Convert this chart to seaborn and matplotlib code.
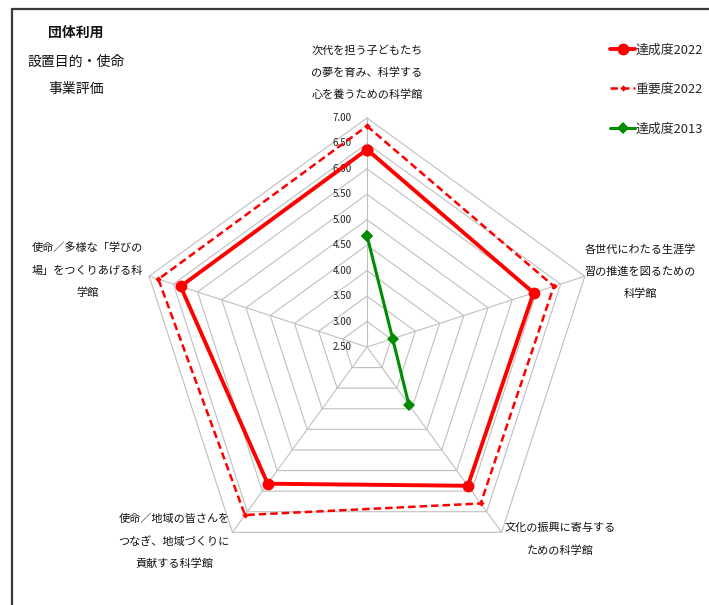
# Radar chart: 団体利用 設置目的・使命 事業評価

import matplotlib
matplotlib.use("Agg")
import matplotlib.pyplot as plt
from matplotlib.lines import Line2D
from matplotlib.patches import Rectangle
import seaborn as sns
import pandas as pd
import numpy as np

# ---- data ----
categories = [
    "次代を担う子どもたち\nの夢を育み、科学する\n心を養うための科学館",
    "各世代にわたる生涯学\n習の推進を図るための\n科学館",
    "文化の振興に寄与する\nための科学館",
    "使命／地域の皆さんを\nつなぎ、地域づくりに\n貢献する科学館",
    "使命／多様な「学びの\n場」をつくりあげる科\n学館",
]
achieve_2022 = [6.38, 5.94, 5.87, 5.82, 6.35]
importance_2022 = [6.84, 6.36, 6.30, 6.58, 6.81]
achieve_2013 = [4.69, 3.03, 3.90, np.nan, np.nan]
series_names = ["達成度2022", "重要度2022", "達成度2013"]
r_ticks = [2.5, 3.0, 3.5, 4.0, 4.5, 5.0, 5.5, 6.0, 6.5, 7.0]
title_lines = ["団体利用", "設置目的・使命", "事業評価"]

# ---- style ----
sns.set_theme(style="white")
plt.rcParams["font.family"] = ["Noto Sans CJK JP", "DejaVu Sans"]

W, H = 709, 605
CX, CY = 367, 347          # centre of the radar in pixels
K = 50.9                   # pixels per unit
R_MIN, R_MAX = r_ticks[0], r_ticks[-1]

fig = plt.figure(figsize=(W / 100, H / 100), dpi=100)
ax = fig.add_axes([0, 0, 1, 1])
ax.set_xlim(-CX / K, (W - CX) / K)
ax.set_ylim(-(H - CY) / K, CY / K)
ax.axis("off")

n = len(categories)
theta = np.arange(n) * 2 * np.pi / n


def to_xy(values):
    r = np.asarray(values, dtype=float) - R_MIN
    return r * np.sin(theta), r * np.cos(theta)


# grid: pentagon rings and spokes
grid_color = "#BFBFBF"
for lvl in r_ticks[1:]:
    gx, gy = to_xy([lvl] * n)
    ax.plot(np.append(gx, gx[0]), np.append(gy, gy[0]), color=grid_color, lw=0.8, zorder=1)
ox, oy = to_xy([R_MAX] * n)
for x_end, y_end in zip(ox, oy):
    ax.plot([0, x_end], [0, y_end], color=grid_color, lw=0.8, zorder=1)

# radial tick labels along the top spoke
for lvl in r_ticks:
    ax.text(-0.3, lvl - R_MIN, f"{lvl:.2f}", ha="right", va="center",
            fontsize=7, color="#222222", zorder=2)

# ---- series ----
styles = [
    dict(color="#FF0000", lw=2.8, marker="o", ms=8.5, linestyle="-"),
    dict(color="#FF0000", lw=1.8, marker="D", ms=3.2, linestyle=(0, (3, 1.6))),
    dict(color="#008C00", lw=2.2, marker="D", ms=6.5, linestyle="-"),
]
handles = []
for name, vals, st in zip(series_names, [achieve_2022, importance_2022, achieve_2013], styles):
    x, y = to_xy(vals)
    df = pd.DataFrame({"x": np.append(x, x[0]), "y": np.append(y, y[0])})
    df["seg"] = df["x"].isna().cumsum()
    df = df.dropna()
    sns.lineplot(data=df, x="x", y="y", units="seg", estimator=None, sort=False,
                 ax=ax, color=st["color"], linewidth=st["lw"], linestyle=st["linestyle"],
                 marker=st["marker"], markersize=st["ms"], markeredgewidth=0,
                 legend=False, zorder=3)
    handles.append(Line2D([], [], color=st["color"], lw=st["lw"], linestyle=st["linestyle"],
                          marker=st["marker"], markersize=st["ms"], markeredgewidth=0))

# category labels (pixel anchors: centre x, first line y)
label_pos = [(367, 50), (640, 249), (560, 528), (174, 519), (87, 248)]
for text, (px, py) in zip(categories, label_pos):
    for j, line in enumerate(text.split("\n")):
        fig.text(px / W, 1 - (py + j * 22.5) / H, line, ha="center", va="center",
                 fontsize=8, color="#111111")

# title block
title_pos = [(76, 33), (76, 62), (76, 89)]
for j, (t, (px, py)) in enumerate(zip(title_lines, title_pos)):
    fig.text(px / W, 1 - py / H, t, ha="center", va="center", fontsize=10,
             fontweight="bold" if j == 0 else "normal", color="#111111")

# legend
fig.legend(handles, series_names, loc="upper left",
           bbox_to_anchor=(604 / W, 1 - 37 / H), frameon=False, fontsize=9.3,
           handlelength=1.9, handletextpad=0.05, labelspacing=2.05, borderpad=0)

# outer frame running off the right and bottom edges
fig.patches.append(Rectangle((11.5 / W, -0.1), 1.2, 1.1 - 9.5 / H, transform=fig.transFigure,
                             fill=False, edgecolor="#3A3A3A", lw=1.6))

fig.savefig("out.png", dpi=100)
